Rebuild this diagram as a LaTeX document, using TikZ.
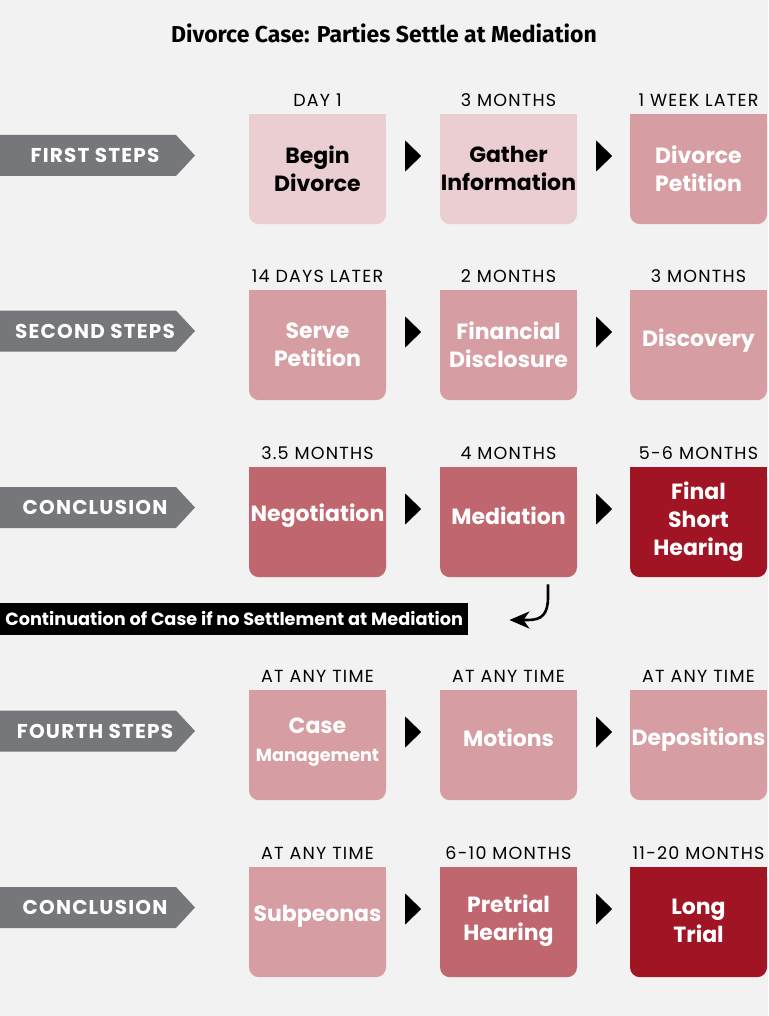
\documentclass[tikz,border=0pt]{standalone}
\usepackage{fontspec}
\setmainfont{Poppins}
\newfontfamily\titlefont{Fira Sans}
\newfontfamily\lblfont{Poppins}[LetterSpace=7]
\newfontfamily\tagfont{Poppins}[LetterSpace=6]
\usetikzlibrary{arrows.meta,calc}
\definecolor{bg}{HTML}{F2F2F2}
\definecolor{lightp}{HTML}{EBCED2}
\definecolor{medp}{HTML}{D69EA3}
\definecolor{darkp}{HTML}{C0666F}
\definecolor{deepr}{HTML}{A01423}
\definecolor{taggray}{HTML}{76777A}
\tikzset{
  stepbox/.style={minimum width=137pt, minimum height=110pt, rounded corners=10pt, inner sep=0pt, anchor=north},
  boxtext/.style={align=center, inner sep=0pt, font=\bfseries\fontsize{22}{28}\selectfont},
  lbl/.style={inner sep=0pt, font=\lblfont\fontsize{17.5}{20}\selectfont, text=black},
  tagtext/.style={inner sep=0pt, text=white, font=\tagfont\bfseries\fontsize{20}{24}\selectfont},
  tritip/.style={fill=black},
}
% #1 name, #2 x, #3 top, #4 fill, #5 text colour, #6 text, #7 label, #8 text shift
\newcommand\mkbox[8]{%
  \node[stepbox, fill=#4] (#1) at (#2,#3) {};
  \fill[#4] (#1.north west) rectangle (#1.east);
  \node[boxtext, text=#5] (#1t) at ([yshift=#8]#1.center) {#6};
  \node[lbl] (#1l) at ([yshift=14pt]#1.north) {#7};
}
\newcommand\mktri[1]{%
  \fill[tritip] ($(#1.north east)+(19,26.5)$) -- ++(16,15.5) -- ++(-16,15.5) -- cycle;
}
\newcommand\mktag[3]{%
  \fill[taggray] (0,#2-20.5) -- (176,#2-20.5) -- (195,#2) -- (176,#2+20.5) -- (0,#2+20.5) -- cycle;
  \node[tagtext] (#1) at (95,#2) {#3};
}
\begin{document}
\begin{tikzpicture}[x=1pt,y=-1pt]
\fill[bg] (0,0) rectangle (768,1016);
\useasboundingbox (0,0) rectangle (768,1016);

\node[font=\titlefont\bfseries\fontsize{23}{26}\selectfont] (title) at (384,33) {Divorce Case: Parties Settle at Mediation};

% tags
\mktag{tag1}{155.5}{FIRST STEPS}
\mktag{tag2}{331}{SECOND STEPS}
\mktag{tag3}{507.5}{CONCLUSION}
\mktag{tag4}{731}{FOURTH STEPS}
\mktag{tag5}{907.5}{CONCLUSION}

% row 1
\mkbox{b11}{317.5}{114}{lightp}{black}{Begin\\Divorce}{DAY 1}{0.5pt}
\mkbox{b12}{508.5}{114}{lightp}{black}{Gather\\Information}{3 MONTHS}{0.5pt}
\mkbox{b13}{698.5}{114}{medp}{white}{Divorce\\Petition}{1 WEEK LATER}{0.5pt}
% row 2
\mkbox{b21}{317.5}{290}{medp}{white}{Serve\\Petition}{14 DAYS LATER}{0.5pt}
\mkbox{b22}{508.5}{290}{medp}{white}{Financial\\Disclosure}{2 MONTHS}{0.5pt}
\mkbox{b23}{698.5}{290}{medp}{white}{Discovery}{3 MONTHS}{5pt}
% row 3
\mkbox{b31}{317.5}{467}{darkp}{white}{Negotiation}{3.5 MONTHS}{6pt}
\mkbox{b32}{508.5}{467}{darkp}{white}{Mediation}{4 MONTHS}{6pt}
\mkbox{b33}{698.5}{467}{deepr}{white}{Final\\Short\\Hearing}{5-6 MONTHS}{0pt}
% row 4
\mkbox{b41}{317.5}{690}{medp}{white}{Case\\{\fontsize{17.6}{20}\selectfont Management}}{AT ANY TIME}{3pt}
\mkbox{b42}{508.5}{690}{medp}{white}{Motions}{AT ANY TIME}{7pt}
\mkbox{b43}{698.5}{690}{medp}{white}{Depositions}{AT ANY TIME}{6pt}
% row 5
\mkbox{b51}{317.5}{867}{medp}{white}{Subpeonas}{AT ANY TIME}{6pt}
\mkbox{b52}{508.5}{867}{darkp}{white}{Pretrial\\Hearing}{6-10 MONTHS}{1pt}
\mkbox{b53}{698.5}{867}{deepr}{white}{Long\\Trial}{11-20 MONTHS}{1pt}

% arrows between boxes
\mktri{b11}\mktri{b12}
\mktri{b21}\mktri{b22}
\mktri{b31}\mktri{b32}
\mktri{b41}\mktri{b42}
\mktri{b51}\mktri{b52}

% banner
\node[fill=black, text=white, anchor=west, minimum width=468pt, minimum height=32pt, inner sep=0pt,
      font=\bfseries\fontsize{17.7}{20}\selectfont] (banner) at (0,618.5) {Continuation of Case if no Settlement at Mediation};

% curved arrow
\draw[line width=2.6pt, -{Stealth[length=20pt,width=17pt,inset=6pt]}]
  ([xshift=39.5pt,yshift=-7pt]b32.south) -- (548,597)
  .. controls (548,614) and (542,620) .. (528,620) -- ([xshift=41pt,yshift=-1.5pt]banner.east);
\end{tikzpicture}
\end{document}
